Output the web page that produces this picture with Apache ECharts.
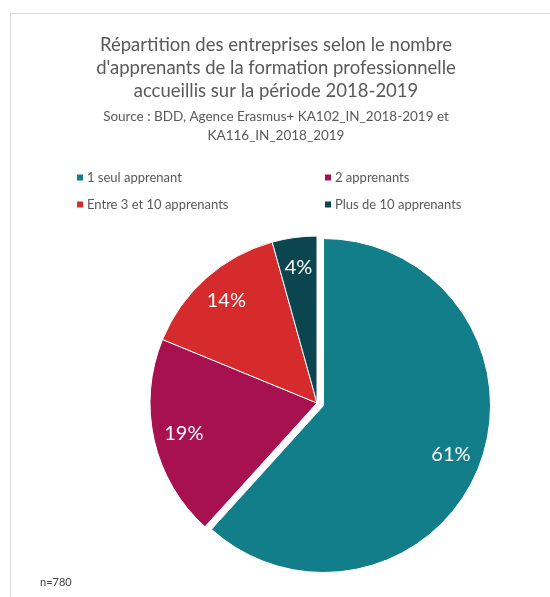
<!DOCTYPE html>
<html><head><meta charset="utf-8">
<script src="https://cdn.jsdelivr.net/npm/echarts@6/dist/echarts.min.js"></script>
<style>html,body{margin:0;padding:0;background:#fff}#c{width:550px;height:597px}</style>
</head><body><div id="c"></div>
<script>
const categories = ['1 seul apprenant', '2 apprenants', 'Entre 3 et 10 apprenants', 'Plus de 10 apprenants'];
const values = [61.4, 19.4, 14.4, 4.3];
const colors = ['#117E8A', '#A8114F', '#D62B2C', '#0B4650'];
const titleText = "Répartition des entreprises selon le nombre\nd'apprenants de la formation professionnelle\naccueillis sur la période 2018-2019";
const subText = "Source : BDD, Agence Erasmus+ KA102_IN_2018-2019 et\nKA116_IN_2018_2019";
const noteText = 'n=780';

const font = 'Lato, "Open Sans", sans-serif';
const center = [317, 403];
const R = 167;

function makeData(transparent) {
  return categories.map((c, i) => ({
    name: c,
    value: values[i],
    selected: i === 0,
    itemStyle: transparent ? { color: 'rgba(0,0,0,0)', borderWidth: 0 } : { color: colors[i] }
  }));
}

const chart = echarts.init(document.getElementById('c'), null, { renderer: 'canvas' });
chart.setOption({
  animation: false,
  color: colors,
  title: {
    text: titleText,
    subtext: subText,
    left: 271, top: 29, textAlign: 'center',
    itemGap: 4,
    textStyle: { fontFamily: font, fontSize: 18.5, fontWeight: 'normal', color: '#595959', lineHeight: 23 },
    subtextStyle: { fontFamily: font, fontSize: 13.5, color: '#595959', lineHeight: 19 }
  },
  legend: [
    { orient: 'vertical', left: 70, top: 166, itemGap: 14, itemWidth: 8, itemHeight: 8, icon: 'rect',
      data: [categories[0], categories[2]], selectedMode: false,
      textStyle: { fontFamily: font, fontSize: 13, color: '#595959', padding: [0, 0, 0, -2] } },
    { orient: 'vertical', left: 318, top: 166, itemGap: 14, itemWidth: 8, itemHeight: 8, icon: 'rect',
      data: [categories[1], categories[3]], selectedMode: false,
      textStyle: { fontFamily: font, fontSize: 13, color: '#595959', padding: [0, 0, 0, -2] } }
  ],
  graphic: [
    { type: 'rect', shape: { x: 10.5, y: 13.5, width: 700, height: 700 }, style: { fill: 'none', stroke: '#d9d9d9', lineWidth: 1 }, silent: true, z: -1 },
    { type: 'text', left: 40, top: 577, style: { text: noteText, fontFamily: font, fontSize: 11, fill: '#404040' } }
  ],
  series: [
    {
      type: 'pie', name: 'base', center: center, radius: [0, R], startAngle: 90, clockwise: true,
      selectedMode: 'single', selectedOffset: 7, silent: true,
      itemStyle: { borderColor: '#ffffff', borderWidth: 1 },
      label: { show: false }, labelLine: { show: false },
      data: makeData(false)
    },
    {
      type: 'pie', name: 'labels', center: center, radius: [100, R], startAngle: 90, clockwise: true,
      selectedMode: 'single', selectedOffset: 7, silent: true,
      label: { show: true, position: 'inside', formatter: p => Math.round(p.value) + '%',
        fontFamily: font, fontSize: 20, color: '#ffffff' },
      labelLine: { show: false },
      data: makeData(true)
    }
  ]
});
</script></body></html>
